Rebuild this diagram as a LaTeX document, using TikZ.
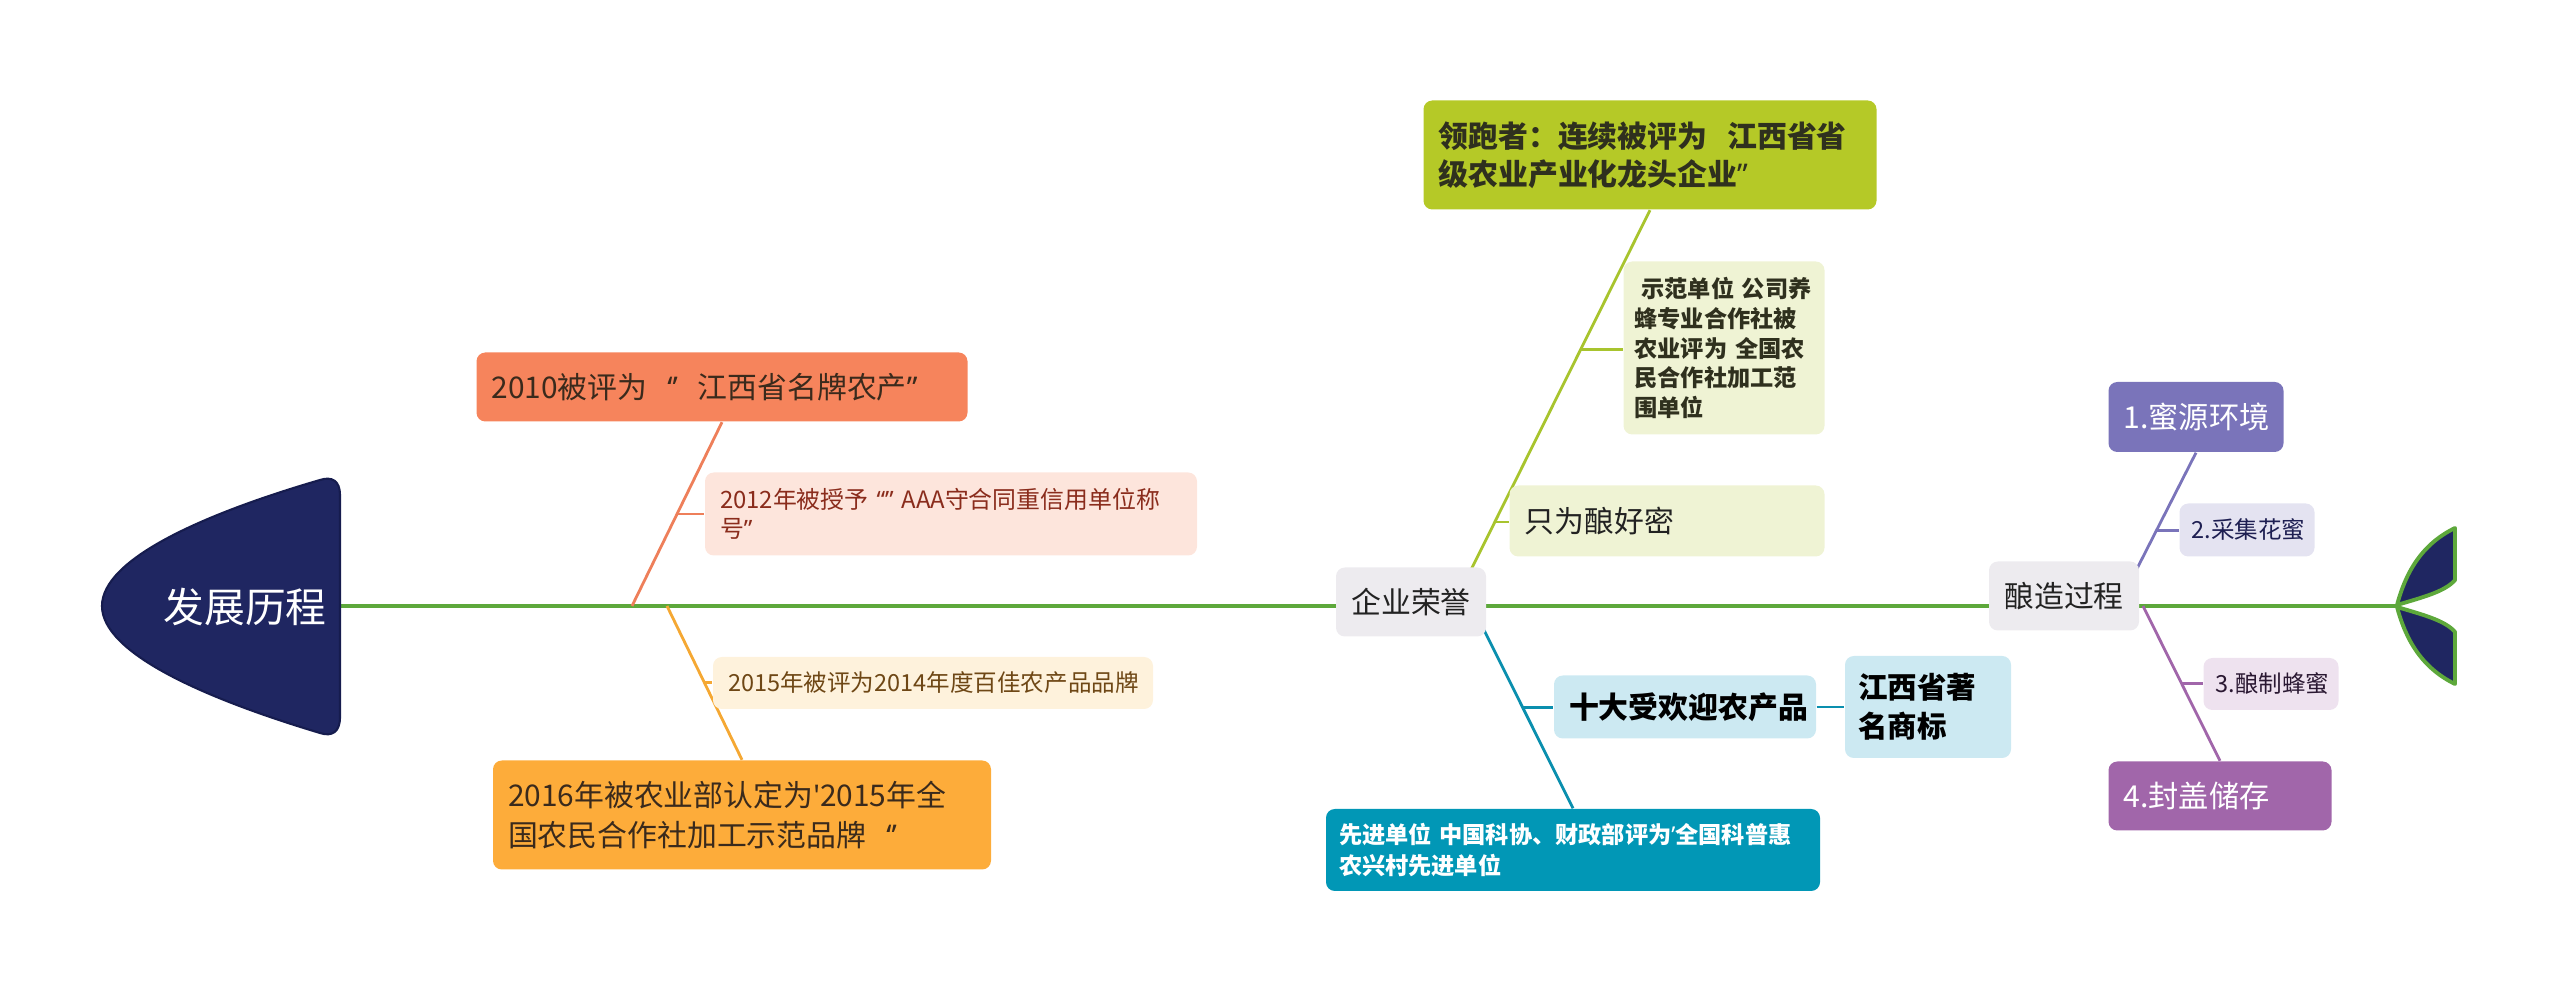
\documentclass[tikz,border=0pt]{standalone}
\usepackage{fontspec}
\setmainfont{Noto Sans CJK SC}
\newfontfamily\qfont{Noto Sans}
\usetikzlibrary{backgrounds}

\definecolor{cNavy}{HTML}{1F2661}
\definecolor{cNavyD}{HTML}{161C4E}
\definecolor{cSpine}{HTML}{5DA83B}
\definecolor{cCoral}{HTML}{F6845C}
\definecolor{cCoralL}{HTML}{EE7F5A}
\definecolor{cPink}{HTML}{FDE5DC}
\definecolor{cRedD}{HTML}{8A2C1C}
\definecolor{cAmber}{HTML}{FDAC3A}
\definecolor{cAmberL}{HTML}{F5A833}
\definecolor{cCream}{HTML}{FEF2DC}
\definecolor{cBrown}{HTML}{6E4715}
\definecolor{cBrownD}{HTML}{3A2A1C}
\definecolor{cGrey}{HTML}{EDEBEF}
\definecolor{cInk}{HTML}{222222}
\definecolor{cLime}{HTML}{B5C927}
\definecolor{cLimeD}{HTML}{A8C42E}
\definecolor{cLimeL}{HTML}{EFF3D4}
\definecolor{cOlive}{HTML}{2F301E}
\definecolor{cTeal}{HTML}{0197B6}
\definecolor{cTealD}{HTML}{0A8FAE}
\definecolor{cCyanL}{HTML}{CCE9F2}
\definecolor{cPurple}{HTML}{7A74BA}
\definecolor{cLav}{HTML}{E4E3F1}
\definecolor{cNavyT}{HTML}{1E1F52}
\definecolor{cViolet}{HTML}{A166AA}
\definecolor{cLilac}{HTML}{EEE2EF}
\definecolor{cPlum}{HTML}{2A1832}

\newcommand{\fsz}[2]{\fontsize{#1pt}{#2pt}\selectfont}
\newcommand{\qm}[1]{{\qfont #1}}

\begin{document}
\begin{tikzpicture}[
  x=0.1mm, y=-0.1mm,
  box/.style={rounded corners=2.5pt, inner xsep=1.5mm, inner ysep=0pt, align=left},
  hub/.style={box, fill=cGrey, text=cInk, align=center, minimum width=15mm,
    minimum height=6.9mm, font=\fsz{8.5}{10}},
  br/.style={line width=0.8pt},
  spine/.style={line width=1.1pt, draw=cSpine},
  leaf/.style={fill=cNavy, draw=cSpine, line width=1.1pt, line join=round}
]
  \useasboundingbox (0,0) rectangle (2560,996);

  % head and tail
  \draw[fill=cNavy, draw=cNavyD, line width=0.6pt]
    (340,495) -- (340,717) .. controls (340,732) and (332,737) .. (320,733)
    .. controls (200,697) and (102,652) .. (102,606)
    .. controls (102,560) and (200,515) .. (320,480)
    .. controls (332,476) and (340,481) .. (340,495) -- cycle;
  \node[text=white, font=\fsz{11.6}{14}] (head) at (245,607) {发展历程};
  \coordinate (headR) at (340,606);

  \draw[leaf] (2397,605) .. controls (2405,575) and (2420,545) .. (2455,528)
    -- (2455,580) .. controls (2445,592) and (2420,598) .. cycle;
  \draw[leaf] (2397,607) .. controls (2405,637) and (2420,667) .. (2455,684)
    -- (2455,632) .. controls (2445,620) and (2420,614) .. cycle;
  \coordinate (tailL) at (2397,606);

  % branch roots on the spine
  \coordinate (b1) at (632,606);
  \coordinate (b2) at (667,606);
  \coordinate (b3) at (1453,606);
  \coordinate (b4) at (1472,606);
  \coordinate (b5) at (2118,606);
  \coordinate (b6) at (2143,606);

  % left part
  \node[box, fill=cCoral, text=cBrownD, text width=46.1mm, minimum height=6.9mm,
    font=\fsz{8.5}{10}] (n2010) at (722,387) {2010被评为~~\qm{‘’}~~江西省名牌农产\qm{”}};
  \node[box, fill=cPink, text=cRedD, text width=46.2mm, minimum height=8.3mm,
    font=\fsz{6.8}{8.3}] (n2012) at (951,514) {2012年被授予~\qm{“”}~AAA守合同重信用单位称\\号\qm{”}};
  \node[box, fill=cCream, text=cBrown, text width=41mm, minimum height=5.2mm,
    font=\fsz{6.7}{8}] (n2015) at (933,683) {2015年被评为2014年度百佳农产品品牌};
  \node[box, fill=cAmber, text=cBrownD, text width=46.8mm, minimum height=10.9mm,
    font=\fsz{8.5}{11.4}] (n2016) at (742,815) {2016年被农业部认定为\qm{'}2015年全\\国农民合作社加工示范品牌~~\qm{‘’}};

  % middle part
  \node[hub] (qy) at (1411,602) {企业荣誉};
  \node[box, fill=cLime, text=cOlive, text width=42.3mm, minimum height=10.9mm,
    font=\fsz{8.5}{10.9}\bfseries] (nlp) at (1650,155) {领跑者：连续被评为~~江西省省\\级农业产业化龙头企业\qm{”}};
  \node[box, fill=cLimeL, text=cOlive, inner xsep=1.1mm, text width=17.9mm,
    minimum height=17.3mm, font=\fsz{6.6}{8.5}\bfseries] (nsf) at (1724,348)
    {\hspace{0.3em}示范单位~公司养\\蜂专业合作社被\\农业评为~全国农\\民合作社加工范\\围单位};
  \node[box, fill=cLimeL, text=cInk, text width=28.5mm, minimum height=7.1mm,
    font=\fsz{8.5}{10}] (nzw) at (1667,521) {只为酿好密};
  \node[box, fill=cTeal, text=white, inner xsep=1.3mm, text width=46.8mm,
    minimum height=8.2mm, font=\fsz{6.6}{8.6}\bfseries] (nxj) at (1573,850)
    {先进单位~中国科协、财政部评为\qm{’}全国科普惠\\农兴村先进单位};
  \node[box, fill=cCyanL, text=black, text width=23.2mm, minimum height=6.3mm,
    font=\fsz{8.5}{10}\bfseries] (nsd) at (1685,707) {十大受欢迎农产品};
  \node[box, fill=cCyanL, text=black, inner xsep=1.3mm, text width=14mm,
    minimum height=10.2mm, font=\fsz{8.4}{11.2}\bfseries] (njx) at (1928,707) {江西省著\\名商标};

  % right part
  \node[hub] (ny) at (2064,596) {酿造过程};
  \node[box, fill=cPurple, text=white, text width=14.5mm, minimum height=7mm,
    font=\fsz{8.6}{10}] (n1) at (2196,417) {1.蜜源环境};
  \node[box, fill=cLav, text=cNavyT, inner xsep=1.2mm, text width=11.1mm,
    minimum height=5.3mm, font=\fsz{6.7}{8}] (n2) at (2247,530) {2.采集花蜜};
  \node[box, fill=cLilac, text=cPlum, inner xsep=1.2mm, text width=11.1mm,
    minimum height=5.2mm, font=\fsz{6.7}{8}] (n3) at (2271,684) {3.酿制蜂蜜};
  \node[box, fill=cViolet, text=white, text width=19.3mm, minimum height=6.9mm,
    font=\fsz{8.6}{10}] (n4) at (2220,796) {4.封盖储存};

  \begin{scope}[on background layer]
    \draw[spine] (headR) -- (tailL);

    \draw[br, cCoralL] (b1) -- coordinate[pos=0.5] (s2012) (n2010.south);
    \draw[br, cCoralL] (s2012) -- (s2012 -| n2012.west);
    \draw[br, cAmberL] (b2) -- coordinate[pos=0.5] (s2015) (n2016.north);
    \draw[br, cAmberL] (s2015) -- (s2015 -| n2015.west);

    \draw[br, cLimeD] (b3) -- coordinate[pos=0.649] (ssf) coordinate[pos=0.212] (szw) (nlp.south);
    \draw[br, cLimeD] (ssf) -- (ssf -| nsf.west);
    \draw[br, cLimeD] (szw) -- (szw -| nzw.west);
    \draw[br, cTealD] (b4) -- coordinate[pos=0.5] (ssd) (nxj.north);
    \draw[br, cTealD] (ssd) -- (ssd -| nsd.west);
    \draw[br, cTealD] (nsd.east) -- (nsd.east -| njx.west);

    \draw[br, cPurple] (b5) -- coordinate[pos=0.49] (s2) (n1.south);
    \draw[br, cPurple] (s2) -- (s2 -| n2.west);
    \draw[br, cViolet] (b6) -- coordinate[pos=0.5] (s3) (n4.north);
    \draw[br, cViolet] (s3) -- (s3 -| n3.west);
  \end{scope}
\end{tikzpicture}
\end{document}
